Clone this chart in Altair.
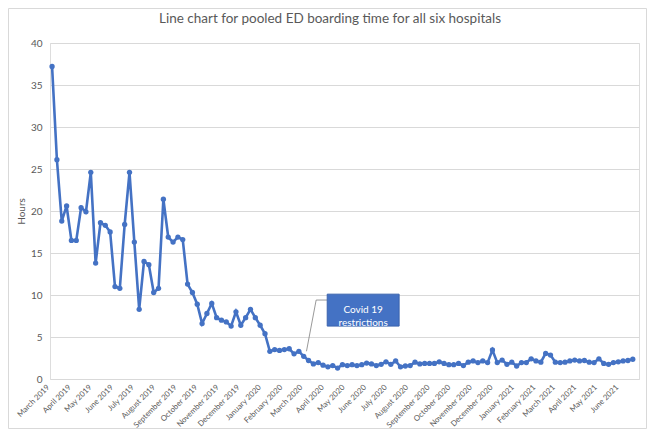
import altair as alt
import pandas as pd

# Weekly pooled ED boarding time (hours), March 2019 - June 2021
hours = [37.2, 26.1, 18.8, 20.6, 16.5, 16.5, 20.4, 19.9, 24.6, 13.8,
         18.6, 18.3, 17.5, 11.0, 10.8, 18.4, 24.6, 16.3, 8.3, 14.0,
         13.6, 10.3, 10.8, 21.4, 16.9, 16.3, 16.9, 16.6, 11.3, 10.3,
         8.9, 6.6, 7.8, 9.0, 7.3, 7.0, 6.8, 6.3, 8.0, 6.4,
         7.3, 8.3, 7.3, 6.4, 5.4, 3.3, 3.5, 3.4, 3.5, 3.6,
         3.0, 3.3, 2.7, 2.2, 1.8, 1.95, 1.65, 1.45, 1.6, 1.3,
         1.7, 1.6, 1.7, 1.6, 1.7, 1.9, 1.8, 1.6, 1.75, 2.05,
         1.75, 2.15, 1.45, 1.55, 1.6, 2.0, 1.8, 1.85, 1.85, 1.85,
         2.05, 1.85, 1.7, 1.7, 1.85, 1.6, 2.0, 2.15, 1.95, 2.15,
         1.95, 3.45, 1.95, 2.25, 1.75, 2.0, 1.55, 1.95, 1.95, 2.4,
         2.15, 2.0, 3.05, 2.85, 2.0, 1.95, 2.0, 2.15, 2.25, 2.15,
         2.2, 2.0, 1.95, 2.4, 1.85, 1.75, 1.95, 2.05, 2.15, 2.2, 2.35]
first_week = "2019-03-04"
x_domain = ["2019-03-01", "2021-06-30"]
month_ticks = ["2019-03-01", "2021-06-01"]   # first and last labelled month
y_ticks = [0, 5, 10, 15, 20, 25, 30, 35, 40]

title_text = "Line chart for pooled ED boarding time for all six hospitals"
note_lines = ["Covid 19", "restrictions"]
# callout box / leader anchor (data units)
box_x = ["2020-04-05", "2020-07-18"]
box_y = [6.3, 10.1]
leader_from = ["2020-03-20", 9.4]
leader_to = ["2020-03-06", 3.3]

weeks = pd.date_range(first_week, periods=len(hours), freq="7D")
df = pd.DataFrame({"week": weeks, "hours": hours})
months = pd.date_range(month_ticks[0], month_ticks[1], freq="MS")
month_df = pd.DataFrame({"month": months, "label": [d.strftime("%B %Y") for d in months]})

BLUE = "#4472C4"
GREY = "#595959"
FONT = "Lato"
W, H = 589, 336

xscale = alt.Scale(domain=x_domain)
yscale = alt.Scale(domain=[0, 40])

x_enc = alt.X("week:T", scale=xscale, title=None,
              axis=alt.Axis(labels=False, domain=False, ticks=False, grid=False))
y_enc = alt.Y("hours:Q", scale=yscale, title="Hours",
              axis=alt.Axis(values=y_ticks, labelFontSize=10, labelColor=GREY,
                            labelFont=FONT, titleFont=FONT, titleFontSize=10,
                            titleColor=GREY, titleFontWeight="normal",
                            domain=False, ticks=False, gridColor="#d9d9d9",
                            labelPadding=8, titlePadding=4))

line = alt.Chart(df).mark_line(color=BLUE, strokeWidth=2.6).encode(x=x_enc, y=y_enc)
pts = alt.Chart(df).mark_circle(color=BLUE, size=28, opacity=1).encode(x="week:T", y="hours:Q")

month_labels = alt.Chart(month_df).mark_text(
    angle=315, align="right", baseline="middle", font=FONT, fontSize=7.8,
    color=GREY, dx=-2).encode(x=alt.X("month:T", scale=xscale), y=alt.value(H + 6),
                              text="label")

box_df = pd.DataFrame({"x": [pd.Timestamp(box_x[0])], "x2": [pd.Timestamp(box_x[1])],
                       "y": [box_y[0]], "y2": [box_y[1]]})
box = alt.Chart(box_df).mark_rect(fill=BLUE, stroke="#3a63ad").encode(
    x="x:T", x2="x2", y="y:Q", y2="y2")

mid_x = pd.Timestamp(box_x[0]) + (pd.Timestamp(box_x[1]) - pd.Timestamp(box_x[0])) / 2
mid_y = (box_y[0] + box_y[1]) / 2
txt_df = pd.DataFrame({"x": [mid_x], "y": [mid_y], "t": [note_lines]})
txt = alt.Chart(txt_df).mark_text(color="white", font=FONT, fontSize=10,
                                  lineHeight=13, baseline="middle", align="center").encode(
    x="x:T", y="y:Q", text="t")

lead_df = pd.DataFrame({
    "x": [pd.Timestamp(leader_from[0]), pd.Timestamp(leader_from[0])],
    "x2": [pd.Timestamp(leader_to[0]), pd.Timestamp(box_x[0])],
    "y": [leader_from[1], leader_from[1]],
    "y2": [leader_to[1], leader_from[1]],
})
lead = alt.Chart(lead_df).mark_rule(color="#7f7f7f", strokeWidth=0.8).encode(
    x="x:T", x2="x2", y="y:Q", y2="y2")

frame = alt.Chart(alt.Data(values=[{}])).mark_rect(
    fill=None, stroke="#d9d9d9", strokeWidth=1).encode(
    x=alt.value(-41.5), x2=alt.value(W + 7.5), y=alt.value(-34.5), y2=alt.value(H + 49.5))

title = alt.Chart(alt.Data(values=[{}])).mark_text(
    text=title_text, font=FONT, fontSize=13.5, color=GREY, align="center",
    baseline="middle").encode(x=alt.value(280), y=alt.value(-24))

chart = alt.layer(frame, title, line, pts, month_labels, lead, box, txt).properties(
    width=W, height=H,
    autosize=alt.AutoSizeParams(type="none"),
    padding={"left": 42, "top": 35, "right": 8, "bottom": 50},
).configure_view(stroke=None).configure(background="white")

chart.save("out.html", embed_options={"renderer": "svg", "actions": False})
